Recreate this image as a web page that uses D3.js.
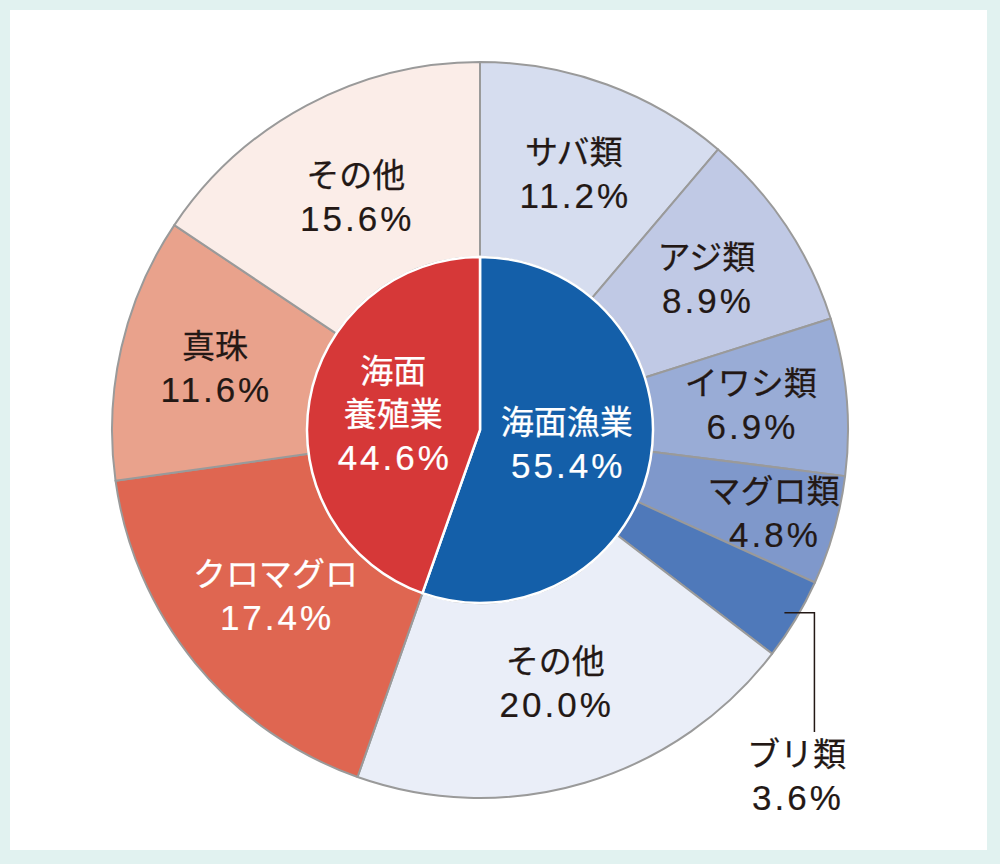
<!DOCTYPE html>
<html>
<head>
<meta charset="utf-8">
<script src="https://cdn.jsdelivr.net/npm/d3@7/dist/d3.min.js"></script>
<style>
  html, body { margin: 0; padding: 0; background: #e1f2f0; }
  svg { display: block; }
  text { font-family: "Liberation Sans", "Noto Sans CJK JP", sans-serif; }
</style>
</head>
<body>
<svg width="1000" height="864"></svg>
<script>
  // inner ring: 海面漁業 / 海面養殖業
  const sectors = ['海面漁業', '海面養殖業']
  const sectorShares = [55.4, 44.6]
  const sectorLabels = [['海面漁業'], ['海面', '養殖業']]
  const sectorColors = ['#145fa9', '#d63838']

  // outer ring, in the same order round the circle
  const species = ['サバ類', 'アジ類', 'イワシ類', 'マグロ類', 'ブリ類', 'その他',
    'クロマグロ', '真珠', 'その他']
  const speciesShares = [11.2, 8.9, 6.9, 4.8, 3.6, 20.0, 17.4, 11.6, 15.6]
  const speciesColors = ['#d6ddef', '#c0c9e5', '#99acd6', '#7f98cb', '#4f79ba', '#eaeef8',
    '#df6651', '#e9a28c', '#fbede8']
  const speciesTextColors = ['#231815', '#231815', '#231815', '#231815', '#231815', '#231815',
    '#ffffff', '#231815', '#231815']

  const cx = 480
  const cy = 430
  const rInner = 173
  const rOuter = 368
  const lineH = 43
  const nameSize = 33
  const pctSize = 35
  const pctSpacing = 3

  const svg = d3.select('svg')

  // white panel on the mint background
  svg.append('rect').
    attr('x', 10).attr('y', 10).
    attr('width', 977).attr('height', 840).
    attr('fill', '#ffffff')

  const g = svg.append('g').attr('transform', `translate(${cx}, ${cy})`)

  const pie = d3.pie().sort(null).value(function (d) { return d.value })

  const outerData = species.map(function (name, i) {
    return { name: name, value: speciesShares[i], color: speciesColors[i], text: speciesTextColors[i] }
  })
  const innerData = sectors.map(function (name, i) {
    return { name: name, value: sectorShares[i], color: sectorColors[i], lines: sectorLabels[i] }
  })

  const outerSlices = pie(outerData)
  const innerSlices = pie(innerData)

  const outerArc = d3.arc().innerRadius(rInner).outerRadius(rOuter)
  const innerArc = d3.arc().innerRadius(0).outerRadius(rInner)

  g.selectAll('path.species').
    data(outerSlices).
    enter().
    append('path').
    attr('class', 'species').
    attr('d', outerArc).
    attr('fill', function (d) { return d.data.color }).
    attr('stroke', '#9a9a9a').
    attr('stroke-width', 2).
    attr('stroke-linejoin', 'round')

  g.selectAll('path.sector').
    data(innerSlices).
    enter().
    append('path').
    attr('class', 'sector').
    attr('d', innerArc).
    attr('fill', function (d) { return d.data.color }).
    attr('stroke', '#ffffff').
    attr('stroke-width', 2.5)

  // where a label sits: along the middle of its slice
  function labelPos (d, r) {
    const a = (d.startAngle + d.endAngle) / 2
    return [Math.sin(a) * r, -Math.cos(a) * r]
  }

  function labelRadius (d) {
    if (d.data.value < 6) return 305
    if (d.data.value > 15) return 264
    return 272
  }

  // two-line label: name, then share
  function addLabel (sel, d) {
    sel.append('text').
      attr('text-anchor', 'middle').
      attr('y', -lineH / 2 + 11).
      attr('font-size', nameSize).
      attr('fill', d.text).
      attr('stroke', d.text).
      attr('stroke-width', 0.25).
      text(d.name)
    sel.append('text').
      attr('text-anchor', 'middle').
      attr('x', pctSpacing / 2).
      attr('y', lineH / 2 + 12).
      attr('font-size', pctSize).
      attr('letter-spacing', pctSpacing).
      attr('fill', d.text).
      attr('stroke', d.text).
      attr('stroke-width', 0.2).
      text(d.value.toFixed(1) + '%')
  }

  // the narrowest slice gets its label outside with a leader line
  const inside = outerSlices.filter(function (d) { return d.data.value >= 4 })
  const outside = outerSlices.filter(function (d) { return d.data.value < 4 })

  inside.forEach(function (d) {
    const p = labelPos(d, labelRadius(d))
    addLabel(g.append('g').attr('transform', `translate(${p[0]}, ${p[1]})`), d.data)
  })

  outside.forEach(function (d) {
    const p = labelPos(d, 355)
    const elbowX = p[0] + 30
    const bottom = 302
    g.append('path').
      attr('d', `M${p[0]},${p[1]}H${elbowX}V${bottom}`).
      attr('fill', 'none').
      attr('stroke', '#231815').
      attr('stroke-width', 1.5)
    addLabel(g.append('g').attr('transform', `translate(${elbowX - 18}, ${bottom + 44})`), d.data)
  })

  // inner labels, white
  innerSlices.forEach(function (d) {
    const p = labelPos(d, 88)
    const lines = d.data.lines.concat([d.data.value.toFixed(1) + '%'])
    const top = -(lines.length - 1) * lineH / 2
    lines.forEach(function (line, i) {
      const isPct = i === lines.length - 1
      g.append('text').
        attr('x', p[0] + (isPct ? pctSpacing / 2 : 0)).
        attr('y', p[1] + top + i * lineH + (isPct ? 12 : 11)).
        attr('text-anchor', 'middle').
        attr('font-size', isPct ? pctSize : nameSize).
        attr('letter-spacing', isPct ? pctSpacing : 0).
        attr('fill', '#ffffff').
        attr('stroke', '#ffffff').
        attr('stroke-width', isPct ? 0.2 : 0.25).
        text(line)
    })
  })
</script>
</body>
</html>
